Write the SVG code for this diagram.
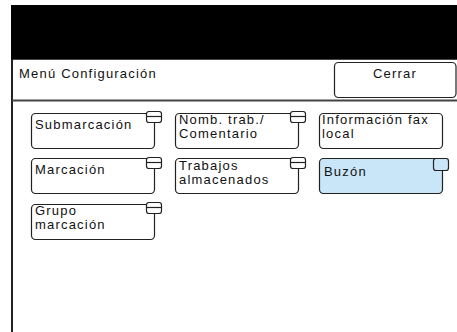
<svg xmlns="http://www.w3.org/2000/svg" width="457" height="332" viewBox="0 0 457 332">
<style>
text{font-family:"Liberation Sans",Arial,sans-serif;font-size:13px;letter-spacing:1.2px;fill:#111}
.btn{fill:#fff;stroke:#222;stroke-width:1.2}
.sel{fill:#c8e6f8;stroke:#222;stroke-width:1.2}
.tab{fill:#fff;stroke:#222;stroke-width:1.2}
.tabs{fill:#c8e6f8;stroke:#222;stroke-width:1.2}
</style>
<rect x="0" y="0" width="457" height="332" fill="#fff"/>
<rect x="11" y="5" width="446" height="55" fill="#000"/>
<path d="M11.5,332 V62 Q11.5,59.5 14,59.5 H457" fill="#fff" stroke="#444" stroke-width="1"/>
<line x1="12" y1="60" x2="12" y2="332" stroke="#222" stroke-width="2"/>
<line x1="12" y1="100.5" x2="457" y2="100.5" stroke="#444" stroke-width="2"/>
<g id="title"><text x="19" y="78">Menú Configuración</text></g>
<g id="cerrar">
<rect class="btn" x="334.5" y="62.5" width="121.5" height="35" rx="4"/>
<text x="395" y="78" text-anchor="middle">Cerrar</text>
</g>
<g id="submarcacion">
<rect class="btn" x="31.5" y="113.5" width="123" height="35" rx="4"/>
<rect class="tab" x="146.5" y="111.5" width="15" height="11" rx="2.5"/>
<line x1="146.5" y1="116.5" x2="161.5" y2="116.5" stroke="#222" stroke-width="1.2"/>
<text x="35" y="129">Submarcación</text>
</g>
<g id="nomb">
<rect class="btn" x="175.5" y="113.5" width="123" height="35" rx="4"/>
<rect class="tab" x="290.5" y="111.5" width="15" height="11" rx="2.5"/>
<line x1="290.5" y1="116.5" x2="305.5" y2="116.5" stroke="#222" stroke-width="1.2"/>
<text x="179" y="124">Nomb. trab./</text>
<text x="179" y="138">Comentario</text>
</g>
<g id="info">
<rect class="btn" x="319.5" y="113.5" width="123" height="35" rx="4"/>
<text x="322" y="124">Información fax</text>
<text x="322" y="138">local</text>
</g>
<g id="marcacion">
<rect class="btn" x="31.5" y="158.5" width="123" height="35" rx="4"/>
<rect class="tab" x="146.5" y="157.5" width="15" height="11" rx="2.5"/>
<line x1="146.5" y1="162.5" x2="161.5" y2="162.5" stroke="#222" stroke-width="1.2"/>
<text x="35" y="174">Marcación</text>
</g>
<g id="trabajos">
<rect class="btn" x="175.5" y="158.5" width="123" height="35" rx="4"/>
<rect class="tab" x="290.5" y="157.5" width="15" height="11" rx="2.5"/>
<line x1="290.5" y1="162.5" x2="305.5" y2="162.5" stroke="#222" stroke-width="1.2"/>
<text x="179" y="170">Trabajos</text>
<text x="179" y="184">almacenados</text>
</g>
<g id="buzon">
<rect class="sel" x="319.5" y="158.5" width="123" height="35" rx="4"/>
<rect class="tabs" x="433.5" y="158.5" width="15" height="12" rx="2.5"/>
<text x="324" y="176">Buzón</text>
</g>
<g id="grupo">
<rect class="btn" x="31.5" y="204.5" width="123" height="35" rx="4"/>
<rect class="tab" x="146.5" y="202.5" width="15" height="11" rx="2.5"/>
<line x1="146.5" y1="207.5" x2="161.5" y2="207.5" stroke="#222" stroke-width="1.2"/>
<text x="35" y="215">Grupo</text>
<text x="35" y="229">marcación</text>
</g>
<g id="connectors"/>
</svg>
